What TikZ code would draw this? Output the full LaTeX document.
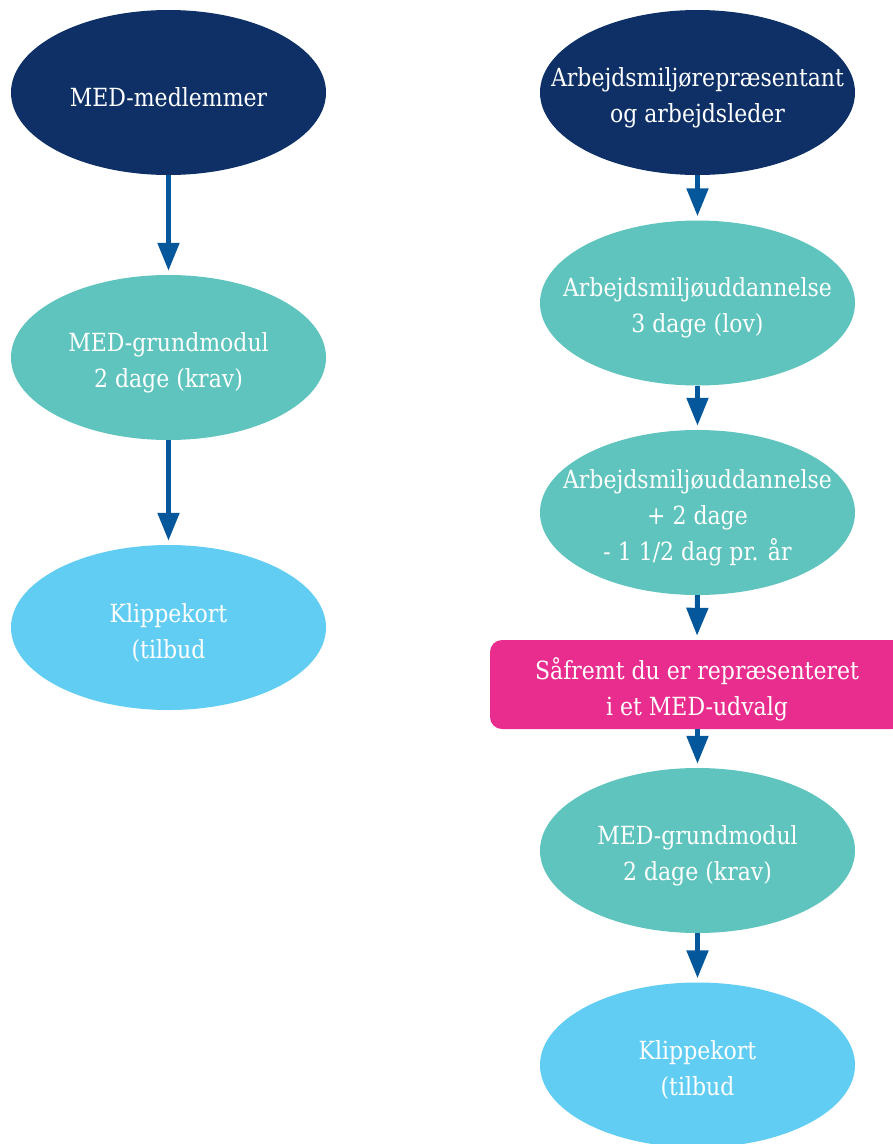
\documentclass[tikz,border=0pt]{standalone}
\usepackage{fontspec}
\setmainfont{DejaVu Serif}[FakeStretch=0.88]
\usetikzlibrary{shapes.geometric,arrows.meta}
\definecolor{navy}{HTML}{0E3066}
\definecolor{teal}{HTML}{5EC4BD}
\definecolor{sky}{HTML}{62CDF3}
\definecolor{pink}{HTML}{E92D8F}
\definecolor{arrowblue}{HTML}{04579A}
\begin{document}
\begin{tikzpicture}[x=1pt,y=-1pt,
  bubble/.style={ellipse, minimum width=315pt, minimum height=165pt, inner sep=0pt, draw=none},
  txt/.style={text=white, align=center, yshift=-5pt, font=\fontsize{25}{36}\selectfont},
  banner/.style={rectangle, rounded corners=12pt, fill=pink, minimum width=414pt, minimum height=89pt, inner sep=0pt},
  arr/.style={draw=arrowblue, line width=5pt, -{Triangle[length=28pt,width=21pt]}, shorten >=4pt}
]
\useasboundingbox (0,0) rectangle (893,1144);

% left column
\node[bubble, fill=navy, label={[txt]center:MED-medlemmer}] (l1) at (168.5,92.5) {};
\node[bubble, fill=teal, label={[txt]center:MED-grundmodul\\2 dage (krav)}] (l2) at (168.5,357.5) {};
\node[bubble, fill=sky, label={[txt]center:Klippekort\\(tilbud}] (l3) at (168.5,627.5) {};

% right column
\node[bubble, fill=navy, label={[txt]center:Arbejdsmiljørepræsentant\\og arbejdsleder}] (r1) at (697.5,92.5) {};
\node[bubble, fill=teal, label={[txt]center:Arbejdsmiljøuddannelse\\3 dage (lov)}] (r2) at (697.5,303) {};
\node[bubble, fill=teal, label={[txt]center:Arbejdsmiljøuddannelse\\+ 2 dage\\- 1 1/2 dag pr. år}] (r3) at (697.5,512.5) {};
\node[banner, label={[txt]center:Såfremt du er repræsenteret\\i et MED-udvalg}] (r4) at (697,684.5) {};
\node[bubble, fill=teal, label={[txt]center:MED-grundmodul\\2 dage (krav)}] (r5) at (697.5,850.5) {};
\node[bubble, fill=sky, label={[txt]center:Klippekort\\(tilbud}] (r6) at (697.5,1065) {};

% connectors
\draw[arr] (l1) -- (l2);
\draw[arr] (l2) -- (l3);
\draw[arr] (r1.south) -- (r2.north);
\draw[arr] (r2.south) -- (r3.north);
\draw[arr] (r3.south) -- (r4.south |- r4.north);
\draw[arr] (r4.south -| r5.north) -- (r5.north);
\draw[arr] (r5.south) -- (r6.north);
\end{tikzpicture}
\end{document}
